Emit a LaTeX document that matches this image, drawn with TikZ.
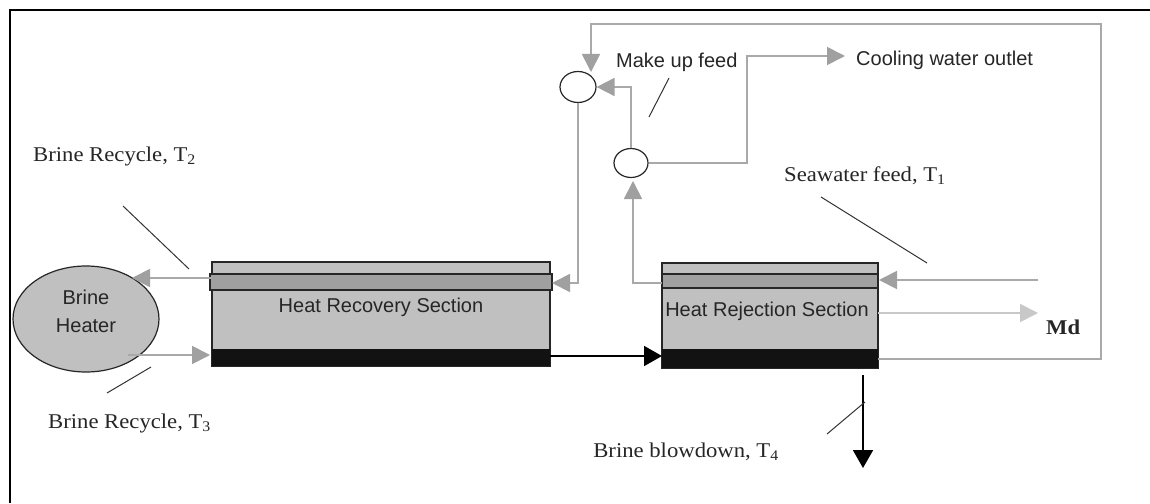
\documentclass[tikz,border=0pt]{standalone}
\usepackage{fontspec}
\setmainfont{Liberation Serif}
\setsansfont{Liberation Sans}
\newfontfamily\labfont[FakeStretch=1.08]{Liberation Serif}
\usetikzlibrary{arrows.meta,shapes.geometric}
\definecolor{flow}{HTML}{A9A9A9}
\definecolor{flowtip}{HTML}{A0A0A0}
\definecolor{distil}{HTML}{C8C8C8}
\definecolor{shell}{HTML}{C0C0C0}
\definecolor{band}{HTML}{A0A0A0}
\definecolor{brinebed}{HTML}{121212}
\tikzset{
  secbox/.style={draw=black!85, line width=1.6pt, fill=shell, inner sep=0pt},
  heaterbox/.style={ellipse, draw=black!85, line width=1.2pt, fill=shell, inner sep=0pt,
    minimum width=146pt, minimum height=106pt},
  mixer/.style={ellipse, draw=black!85, line width=1.2pt, fill=white, inner sep=0pt},
  gline/.style={draw=flow, line width=1.8pt},
  garrow/.style={gline, -{Triangle[length=18pt,width=18pt,color=flowtip]}},
  darrow/.style={draw=distil, line width=1.8pt, -{Triangle[length=18pt,width=18pt,color=distil]}},
  karrow/.style={draw=black, line width=1.8pt, -{Triangle[length=18pt,width=20pt]}},
  pointer/.style={draw=black!80, line width=1pt},
  sanslab/.style={font=\sffamily\fontsize{20}{24}\selectfont, inner sep=0pt, text=black!85},
  seriflab/.style={font=\labfont\fontsize{21}{25}\selectfont, inner sep=0pt, text=black!85},
}
\begin{document}
\begin{tikzpicture}[x=1pt,y=-1pt]
\useasboundingbox (0,0) rectangle (1150,503);
\fill[white] (0,0) rectangle (1150,503);
% outer frame (top and left edges)
\draw[line width=2.4pt, black] (10,503) -- (10,10) -- (1150,10);

% brine heater
\node[heaterbox] (heater) at (86,319) {};
\node[sanslab, align=center, font=\sffamily\fontsize{20}{28}\selectfont] (heaterT) at (86,311) {Brine\\Heater};

% heat recovery section
\node[secbox, minimum width=338pt, minimum height=104pt] (hrs) at (381,314) {};
\filldraw[fill=band, draw=black!85, line width=1.4pt] (210,274) rectangle (552,290);
\fill[brinebed] (212,349) rectangle (550,366);
\node[sanslab] (hrsT) at (381,307) {Heat Recovery Section};

% heat rejection section
\node[secbox, minimum width=216pt, minimum height=105pt] (hrej) at (770,315.5) {};
\filldraw[fill=band, draw=black!85, line width=1.4pt] (662,274) rectangle (878,288);
\fill[brinebed] (662,349) rectangle (878,368);
\node[sanslab] (hrejT) at (767,311) {Heat Rejection Section};

% mixing points
\node[mixer, minimum width=36pt, minimum height=31pt] (mc1) at (578,87) {};
\node[mixer, minimum width=34pt, minimum height=29pt] (mc2) at (631,163) {};

% connector end points
\coordinate (hrsOutL) at (212,278);
\coordinate (heaterIn) at (132,278);
\coordinate (heaterOut) at (128,355);
\coordinate (hrsInL) at (210,355);
\coordinate (hrsOutR) at (550,356);
\coordinate (hrejInL) at (662,356);
\coordinate (hrejOutTop) at (662,283);
\coordinate (hrsInR) at (552,283);
\coordinate (hrejOutBot) at (878,359);
\coordinate (mc1top) at (591,72);
\coordinate (mc2bot) at (633,181);
\coordinate (cwo) at (845,56);
\coordinate (seaIn) at (1038,280);
\coordinate (hrejInR) at (879,280);
\coordinate (hrejOutR) at (878,313);
\coordinate (mdOut) at (1038,313);
\coordinate (bdStart) at (863,375);
\coordinate (bdEnd) at (863,468);

% brine flows around the heater
\draw[garrow] (hrsOutL) -- (heaterIn);
\draw[garrow] (heaterOut) -- (hrsInL);
\draw[karrow] (hrsOutR) -- (hrejInL);

% cooling water and recycle loops
\draw[garrow] (hrejOutTop) -| (mc2bot);
\draw[garrow] (mc2) |- (mc1);
\draw[garrow] (mc2) -| (747,110) |- (cwo);
\draw[garrow] (hrejOutBot) -| (1101,24) -| (mc1top);
\draw[garrow] (mc1) |- (hrsInR);

% seawater feed, distillate, blowdown
\draw[garrow] (seaIn) -- (hrejInR);
\draw[darrow] (hrejOutR) -- (mdOut);
\draw[karrow] (bdStart) -- (bdEnd);

% label pointers
\draw[pointer] (123,206) -- (189,269);
\draw[pointer] (107,393) -- (151,367);
\draw[pointer] (669,78) -- (649,117);
\draw[pointer] (821,197) -- (927,263);
\draw[pointer] (827,434) -- (865,402);

% labels
\node[seriflab, anchor=west] (lblT2) at (33,156) {Brine Recycle, T\textsubscript{2}};
\node[seriflab, anchor=west] (lblT3) at (48,423) {Brine Recycle, T\textsubscript{3}};
\node[sanslab, anchor=west] (lblMU) at (616,62) {Make up feed};
\node[sanslab, anchor=west] (lblCW) at (856,60) {Cooling water outlet};
\node[seriflab, anchor=west] (lblSW) at (784,176) {Seawater feed, T\textsubscript{1}};
\node[seriflab, anchor=west, font=\labfont\bfseries\fontsize{21}{25}\selectfont] (lblMd) at (1046,327) {Md};
\node[seriflab, anchor=east] (lblT4) at (779,452) {Brine blowdown, T\textsubscript{4}};
\end{tikzpicture}
\end{document}
